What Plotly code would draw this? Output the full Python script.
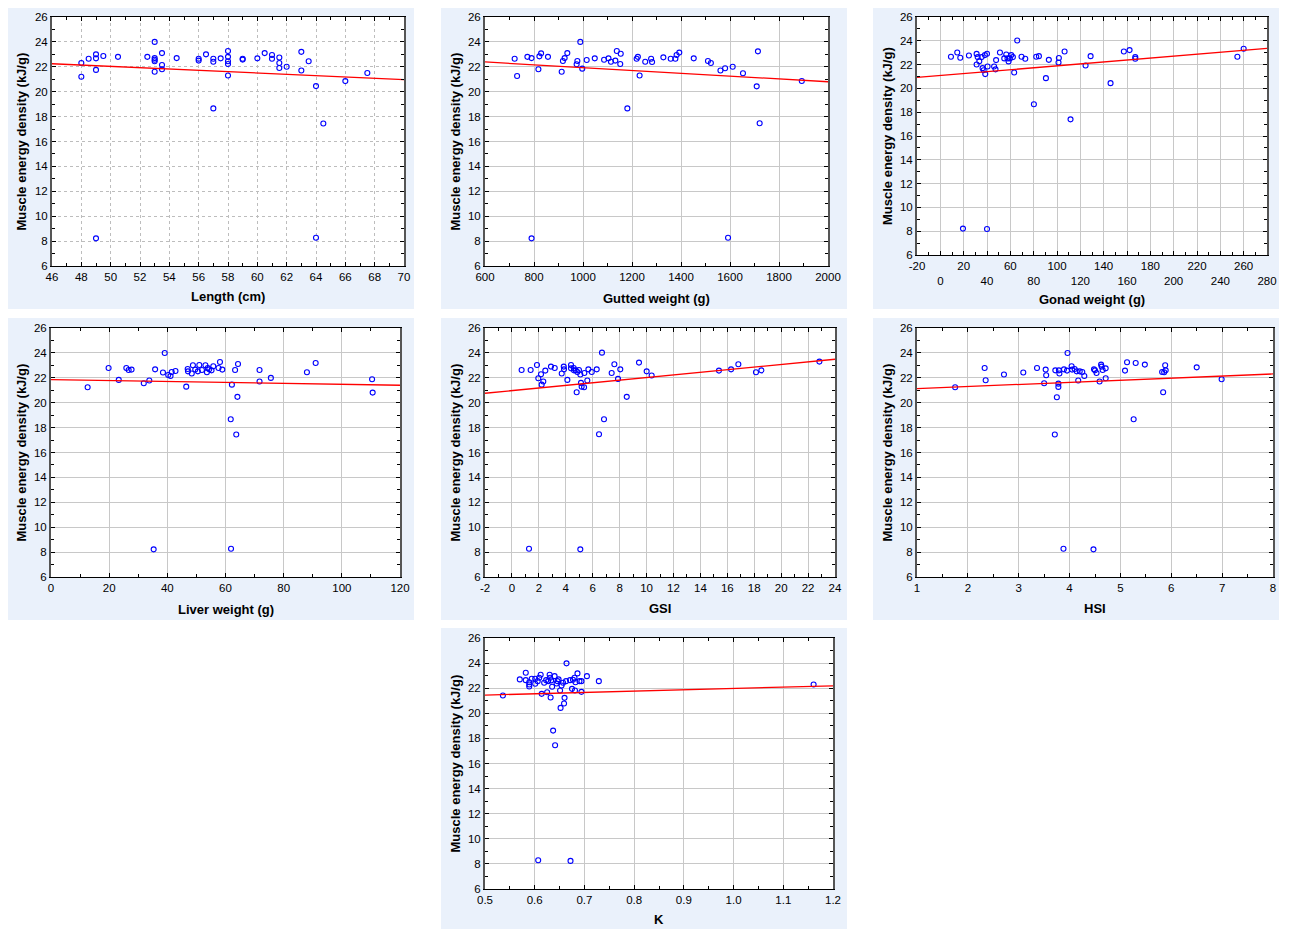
import plotly.graph_objects as go

W, H = 1289, 929

# ---------------- data ----------------
length_cm = [48, 48, 48.5, 49, 49, 49, 49, 49.5, 50.5, 52.5, 53, 53, 53, 53, 53, 53.5, 53.5, 53.5, 54.5,
             56, 56, 56.5, 57, 57, 57, 57.5, 58, 58, 58, 58, 58, 59, 59, 60, 60.5, 61, 61, 61.5, 61.5, 61.5,
             62, 63, 63, 63.5, 64, 64, 64.5, 66, 67.5]
energy_length = [22.3, 21.2, 22.65, 23.0, 22.68, 21.75, 8.22, 22.87, 22.8, 22.8, 24.0, 22.7, 22.57, 22.45, 21.6,
                 23.1, 22.15, 21.8, 22.7, 22.65, 22.5, 23.0, 22.65, 22.4, 18.66, 22.68, 23.27, 22.8, 22.45, 22.22,
                 21.3, 22.65, 22.58, 22.68, 23.1, 22.95, 22.65, 22.75, 22.3, 21.9, 22.0, 23.2, 21.7, 22.45, 20.45,
                 8.27, 17.45, 20.85, 21.5]

gutted_g = [721, 731, 773, 790, 790, 818, 822, 829, 857, 913, 918, 925, 936, 977, 974, 989, 997, 1015, 1048, 1086,
            1104, 1114, 1132, 1138, 1154, 1152, 1181, 1219, 1224, 1231, 1254, 1278, 1282, 1328, 1358, 1377, 1382,
            1393, 1452, 1510, 1522, 1561, 1580, 1592, 1611, 1653, 1709, 1714, 1721, 1893]
energy_gutted = [22.65, 21.26, 22.8, 22.7, 8.22, 21.8, 22.84, 23.08, 22.8, 21.6, 22.47, 22.7, 23.1, 22.47, 22.2,
                 24.0, 21.85, 22.55, 22.68, 22.57, 22.68, 22.4, 22.5, 23.27, 23.05, 22.22, 18.66, 22.65, 22.8, 21.3,
                 22.4, 22.65, 22.39, 22.76, 22.65, 22.65, 22.95, 23.14, 22.68, 22.47, 22.3, 21.7, 21.88, 8.27, 22.0,
                 21.48, 20.43, 23.24, 17.46, 20.86]

gonad_g = [9.1, 14.5, 17.1, 19.4, 24.5, 31.1, 31.1, 32, 33.4, 35.4, 36.2, 37.1, 38.2, 38.5, 40, 40.5, 40, 46.1,
           47.3, 47.8, 51.1, 54.8, 56.5, 57.6, 58.5, 59.6, 60.8, 62.2, 63.3, 65.9, 69.6, 72.8, 80.2, 82.2, 84.5,
           90.5, 93.0, 101.3, 101.6, 106.5, 111.6, 124.5, 128.8, 145.9, 157.3, 162.2, 167.1, 167.1, 254.6, 260]
energy_gonad = [22.66, 23.02, 22.57, 8.22, 22.77, 22.9, 22.01, 22.63, 22.29, 22.63, 21.7, 21.53, 22.8, 21.2, 22.91,
                21.84, 8.19, 21.84, 21.6, 22.38, 23.02, 22.52, 22.85, 22.52, 22.27, 22.52, 22.8, 22.63, 21.34, 24.03,
                22.66, 22.49, 18.67, 22.66, 22.71, 20.86, 22.4, 22.18, 22.55, 23.1, 17.4, 21.93, 22.71, 20.44, 23.1,
                23.22, 22.63, 22.49, 22.66, 23.33]

liver_g = [12.6, 19.8, 23.3, 25.9, 26.7, 27.7, 31.9, 33.8, 35.3, 35.8, 38.5, 39.1, 40.3, 41.1, 41.5, 42.8, 46.5,
           47, 47.1, 48.4, 48.8, 49.6, 50.5, 51, 51.9, 53.1, 53.6, 53.9, 54.4, 55.2, 55.8, 57.6, 58.1, 58.9, 61.9,
           61.8, 62.2, 63.3, 63.7, 64.1, 64.3, 71.7, 71.7, 75.6, 88, 91, 110.4, 110.6]
energy_liver = [21.24, 22.79, 21.83, 22.79, 22.63, 22.66, 21.56, 21.78, 8.22, 22.68, 22.42, 23.99, 22.23, 22.15,
                22.47, 22.55, 21.29, 22.71, 22.52, 22.34, 23.01, 22.66, 22.52, 23.03, 22.63, 23.01, 22.44, 22.79,
                22.68, 22.6, 22.93, 22.79, 23.27, 22.66, 8.27, 18.67, 21.45, 22.63, 17.44, 20.47, 23.11, 22.63,
                21.7, 21.99, 22.44, 23.19, 21.88, 20.81]

gsi = [0.72, 1.39, 1.27, 1.86, 1.96, 2.16, 2.21, 2.33, 2.48, 2.9, 3.18, 3.7, 3.85, 3.87, 4.12, 4.39, 4.39, 4.59,
       4.61, 4.74, 4.81, 4.86, 4.98, 5.08, 5.08, 5.13, 5.18, 5.36, 5.38, 5.6, 5.68, 5.93, 6.3, 6.47, 6.69, 6.84,
       7.41, 7.61, 7.88, 8.05, 8.53, 9.44, 10.01, 10.38, 15.38, 16.28, 16.82, 18.13, 18.53, 22.84]
energy_gsi = [22.63, 22.63, 8.27, 23.03, 21.96, 22.28, 21.45, 21.7, 22.58, 22.9, 22.79, 22.34, 22.9, 22.68, 21.83,
              23.03, 22.76, 22.79, 22.6, 22.6, 20.84, 22.47, 22.63, 22.26, 8.22, 21.59, 21.29, 21.24, 22.39, 21.78,
              22.68, 22.47, 22.68, 17.47, 24.02, 18.67, 22.39, 23.09, 21.91, 22.68, 20.47, 23.22, 22.52, 22.18,
              22.58, 22.68, 23.09, 22.44, 22.6, 23.3]

hsi = [1.75, 2.33, 2.35, 2.71, 3.09, 3.36, 3.5, 3.53, 3.54, 3.71, 3.72, 3.75, 3.78, 3.78, 3.79, 3.8, 3.88, 3.89,
       3.95, 3.96, 4.04, 4.05, 4.1, 4.14, 4.17, 4.2, 4.25, 4.29, 4.47, 4.48, 4.5, 4.53, 4.59, 4.62, 4.63, 4.65,
       4.71, 4.71, 5.09, 5.13, 5.26, 5.3, 5.48, 5.82, 5.84, 5.86, 5.89, 5.88, 6.5, 6.99]
energy_hsi = [21.24, 22.79, 21.8, 22.26, 22.42, 22.79, 21.56, 22.66, 22.2, 17.44, 22.6, 20.44, 21.53, 21.27, 22.6,
              22.34, 8.27, 22.68, 22.58, 23.99, 22.93, 22.66, 22.71, 22.52, 21.78, 22.52, 22.47, 22.15, 8.22, 22.68,
              22.6, 22.39, 21.7, 23.06, 22.9, 22.63, 22.76, 21.96, 22.58, 23.25, 18.67, 23.19, 23.06, 22.47, 20.84,
              22.44, 22.6, 23.01, 22.84, 21.88]

k_factor = [0.536, 0.570, 0.582, 0.582, 0.589, 0.589, 0.589, 0.594, 0.601, 0.601, 0.606, 0.607, 0.609, 0.612,
            0.614, 0.619, 0.623, 0.625, 0.627, 0.630, 0.631, 0.632, 0.633, 0.635, 0.637, 0.640, 0.641, 0.644,
            0.646, 0.648, 0.651, 0.652, 0.654, 0.657, 0.659, 0.660, 0.663, 0.664, 0.671, 0.672, 0.675, 0.677,
            0.680, 0.681, 0.682, 0.686, 0.690, 0.694, 0.694, 0.705, 0.729, 1.161]
energy_k = [21.42, 22.7, 23.23, 22.64, 22.48, 22.3, 22.14, 22.75, 22.75, 22.35, 22.56, 8.29, 22.83, 23.07, 21.55,
            22.43, 22.64, 21.68, 22.56, 23.07, 22.83, 21.26, 22.62, 22.11, 18.62, 22.96, 17.45, 22.38, 22.56, 22.7,
            21.82, 20.43, 22.22, 22.43, 20.78, 21.23, 22.56, 23.98, 22.64, 8.24, 21.95, 22.67, 22.83, 21.82, 22.48,
            23.18, 22.56, 22.56, 21.71, 22.96, 22.56, 22.3]

# regression lines (intercept, slope)
fit_intercepts = [24.70, 23.071, 21.083, 21.85, 20.97, 20.961, 20.921]
fit_slopes = [-0.05333, -0.0011357, 0.008133, -0.00375, 0.105, 0.16857, 1.0571]

x_titles = ["Length (cm)", "Gutted weight (g)", "Gonad weight (g)", "Liver weight (g)", "GSI", "HSI", "K"]
y_title = "Muscle energy density (kJ/g)"
x_ranges = [[46, 70], [600, 2000], [-20, 280], [0, 120], [-2, 24], [1, 8], [0.5, 1.2]]
x_dticks = [2, 200, 20, 20, 2, 1, 0.1]
y_range = [6, 26]
y_ticks = list(range(6, 27, 2))

xs = [length_cm, gutted_g, gonad_g, liver_g, gsi, hsi, k_factor]
ys = [energy_length, energy_gutted, energy_gonad, energy_liver, energy_gsi, energy_hsi, energy_k]

# ---------------- layout geometry (pixels) ----------------
panels_px = [(8, 8, 414, 309), (441, 8, 847, 309), (873, 8, 1279, 309),
             (8, 318, 414, 620), (441, 318, 847, 620), (873, 318, 1279, 620),
             (441, 628, 847, 929)]
plots_px = [(52, 17, 404, 266), (485, 17, 828, 266), (917, 17, 1267, 255),
            (51, 328, 400, 577), (485, 328, 835, 577), (917, 328, 1273, 577),
            (485, 638, 833, 889)]
xtitle_y = [296, 298, 299, 609, 608, 608, 919]
ytitle_x = [21, 455, 887, 21, 455, 887, 455]

FONT = "Liberation Sans, Arial, sans-serif"
BG = "#EAF1FB"


def xdom(x0, x1):
    return [x0 / W, x1 / W]


def ydom(y0, y1):
    return [1 - y1 / H, 1 - y0 / H]


def fmt(v, dec):
    s = f"{v:.{dec}f}"
    return s


fig = go.Figure()
shapes = []
annotations = []
layout_axes = {}

for i in range(7):
    n = i + 1
    xa = "x" if n == 1 else f"x{n}"
    ya = "y" if n == 1 else f"y{n}"
    xkey = "xaxis" if n == 1 else f"xaxis{n}"
    ykey = "yaxis" if n == 1 else f"yaxis{n}"

    px0, py0, px1, py1 = panels_px[i]
    shapes.append(dict(type="rect", xref="paper", yref="paper",
                       x0=px0 / W, x1=px1 / W, y0=1 - py1 / H, y1=1 - py0 / H,
                       fillcolor=BG, line=dict(width=0), layer="below"))
    x0, y0, x1, y1 = plots_px[i]
    shapes.append(dict(type="rect", xref="paper", yref="paper",
                       x0=x0 / W, x1=x1 / W, y0=1 - y1 / H, y1=1 - y0 / H,
                       fillcolor="white", line=dict(width=0), layer="below"))

    grid_dash = "dot" if i == 0 else "solid"
    grid_col = "#BDBDBD" if i == 0 else "#C8C8C8"

    xr = x_ranges[i]
    dt = x_dticks[i]
    nt = int(round((xr[1] - xr[0]) / dt))
    vals = [xr[0] + k * dt for k in range(nt + 1)]
    dec = 1 if i == 6 else 0
    texts = [fmt(v, dec) for v in vals]
    if i == 2:
        texts = [t if k % 2 == 0 else "<br>" + t for k, t in enumerate(texts)]

    xaxis = dict(domain=xdom(x0, x1), range=xr, anchor=ya,
                 tickmode="array", tickvals=vals, ticktext=texts,
                 showline=True, linecolor="black", linewidth=1, mirror="ticks",
                 ticks="inside", ticklen=4, tickcolor="black",
                 showgrid=True, gridcolor=grid_col, gridwidth=1, griddash=grid_dash,
                 zeroline=False, automargin=False,
                 tickfont=dict(family=FONT, size=11.5, color="black"),
                 minor=dict(ticks="inside", ticklen=3, tickcolor="black", dtick=dt / 2,
                            tick0=xr[0], showgrid=False))
    yaxis = dict(domain=ydom(y0, y1), range=y_range, anchor=xa,
                 tickmode="array", tickvals=y_ticks, ticktext=[str(v) for v in y_ticks],
                 showline=True, linecolor="#555555", linewidth=2, mirror="ticks",
                 ticks="inside", ticklen=4, tickcolor="black",
                 showgrid=True, gridcolor=grid_col, gridwidth=1, griddash=grid_dash,
                 zeroline=False, automargin=False,
                 tickfont=dict(family=FONT, size=11.5, color="black"),
                 minor=dict(ticks="inside", ticklen=3, tickcolor="black", dtick=1, tick0=6,
                            showgrid=False))
    layout_axes[xkey] = xaxis
    layout_axes[ykey] = yaxis

    fig.add_trace(go.Scatter(x=xs[i], y=ys[i], mode="markers", xaxis=xa, yaxis=ya,
                             marker=dict(symbol="circle-open", size=5, color="#0000FF",
                                         line=dict(width=1.1, color="#0000FF")),
                             showlegend=False))
    lx = [xr[0], xr[1]]
    ly = [fit_intercepts[i] + fit_slopes[i] * v for v in lx]
    fig.add_trace(go.Scatter(x=lx, y=ly, mode="lines", xaxis=xa, yaxis=ya,
                             line=dict(color="#FF0000", width=1.3), showlegend=False,
                             hoverinfo="skip"))

    annotations.append(dict(text=f"<b>{x_titles[i]}</b>", xref="paper", yref="paper",
                            x=(x0 + x1) / 2 / W, y=1 - xtitle_y[i] / H, showarrow=False,
                            xanchor="center", yanchor="middle",
                            font=dict(family=FONT, size=13, color="black")))
    annotations.append(dict(text=f"<b>{y_title}</b>", xref="paper", yref="paper",
                            x=ytitle_x[i] / W, y=1 - (y0 + y1) / 2 / H, showarrow=False,
                            textangle=-90, xanchor="center", yanchor="middle",
                            font=dict(family=FONT, size=13, color="black")))

fig.update_layout(width=W, height=H,
                  margin=dict(l=0, r=0, t=0, b=0, pad=0, autoexpand=False),
                  paper_bgcolor="white", plot_bgcolor="white",
                  shapes=shapes, annotations=annotations, showlegend=False,
                  font=dict(family=FONT, color="black"), **layout_axes)

fig.write_html("out.html", config={"displayModeBar": False},
               post_script="document.body.style.margin='0';")
